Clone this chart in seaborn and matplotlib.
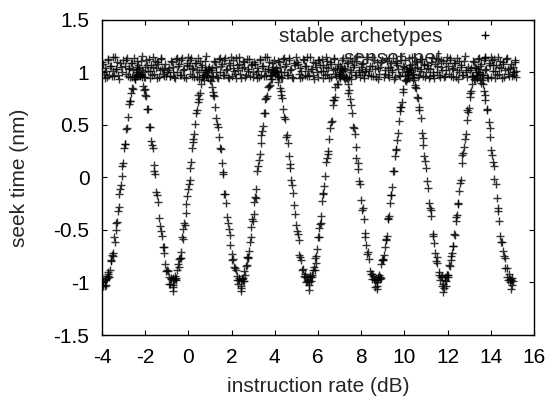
import matplotlib
matplotlib.use("Agg")
import matplotlib.pyplot as plt
import pandas as pd
import seaborn as sns
from matplotlib.lines import Line2D
from matplotlib.ticker import FormatStrFormatter

# stable archetypes (the oscillating series)
arch_x = [
    -4.00, -3.97, -3.93,
    -3.87, -3.83, -3.80, -3.74, -3.70, -3.67, -3.59, -3.56, -3.51, -3.44, -3.40, -3.34, -3.27, -3.23, -3.18, -3.09, -3.05,
    -2.98, -2.92, -2.87, -2.79, -2.75, -2.68, -2.62, -2.56, -2.51, -2.43, -2.36, -2.28, -2.23, -2.15, -2.10, -2.02, -1.96,
    -1.90, -1.81, -1.76, -1.69, -1.60, -1.54, -1.48, -1.39, -1.32, -1.26, -1.19, -1.11, -1.04, -0.98, -0.91, -0.84, -0.79,
    -0.72, -0.69, -0.65, -0.60, -0.55, -0.53, -0.44, -0.42, -0.36, -0.30, -0.25, -0.20, -0.12, -0.09, -0.03, 0.06, 0.09,
    0.17, 0.22, 0.28, 0.35, 0.40, 0.46, 0.53, 0.58, 0.64, 0.71, 0.79, 0.86, 0.92, 0.99, 1.05, 1.12, 1.19, 1.25, 1.33, 1.39,
    1.46, 1.54, 1.61, 1.66, 1.76, 1.82, 1.89, 1.95, 2.04, 2.10, 2.17, 2.23, 2.31, 2.35,
    2.42, 2.46, 2.49, 2.55, 2.59, 2.62, 2.70, 2.73, 2.78, 2.85, 2.89, 2.95, 3.02, 3.06, 3.11, 3.20, 3.24, 3.31, 3.37, 3.42,
    3.50, 3.54, 3.61, 3.67, 3.73, 3.78, 3.86, 3.93, 4.01, 4.06, 4.14, 4.19, 4.27, 4.33, 4.39, 4.48, 4.53, 4.60, 4.69, 4.75,
    4.81, 4.90, 4.97, 5.03, 5.10, 5.18, 5.25, 5.31, 5.38, 5.45, 5.50,
    5.56, 5.60, 5.63, 5.69, 5.73, 5.76, 5.84, 5.87, 5.92, 5.99, 6.03, 6.09, 6.16, 6.20, 6.25, 6.34, 6.38, 6.45, 6.51, 6.56,
    6.64, 6.68, 6.75, 6.81, 6.87, 6.92, 7.00, 7.07, 7.15, 7.20, 7.28, 7.33, 7.41, 7.47, 7.53, 7.62, 7.67, 7.74, 7.83, 7.89,
    7.95, 8.04, 8.11, 8.17, 8.24, 8.32, 8.39, 8.45, 8.52, 8.59, 8.64,
    8.70, 8.74, 8.77, 8.83, 8.87, 8.90, 8.98, 9.01, 9.06, 9.13, 9.17, 9.23, 9.30, 9.34, 9.39, 9.48, 9.52, 9.59, 9.65, 9.70,
    9.78, 9.82, 9.89, 9.95, 10.01, 10.06, 10.14, 10.21, 10.29, 10.34, 10.42, 10.47, 10.55, 10.61, 10.67, 10.76, 10.81,
    10.88, 10.97, 11.03, 11.09, 11.18, 11.25, 11.31, 11.38, 11.46, 11.53, 11.59, 11.66, 11.73, 11.78,
    11.84, 11.88, 11.91, 11.97, 12.01, 12.04, 12.12, 12.15, 12.20, 12.27, 12.31, 12.37, 12.44, 12.48, 12.53, 12.62, 12.66,
    12.73, 12.79, 12.84, 12.92, 12.96, 13.03, 13.09, 13.15, 13.20, 13.28, 13.35, 13.43, 13.48, 13.56, 13.61, 13.69, 13.75,
    13.81, 13.90, 13.95, 14.02, 14.11, 14.17, 14.23, 14.32, 14.39, 14.45, 14.52, 14.60, 14.67, 14.73, 14.80, 14.87, 14.92,
    14.97, 15.00, 15.03,
    -0.70, 2.44, 5.58, 8.72, 11.80, 14.95,
]
arch_y = [
    -0.94, -1.03, -0.99,
    -0.98, -1.02, -0.97, -0.92, -0.94, -0.95, -0.80, -0.79, -0.75, -0.57, -0.61, -0.43, -0.32, -0.28, -0.11, 0.01, 0.11,
    0.28, 0.32, 0.46, 0.58, 0.70, 0.73, 0.85, 0.84, 0.96, 0.98, 0.97, 1.04, 0.97, 0.96, 0.87, 0.84, 0.78,
    0.65, 0.48, 0.48, 0.31, 0.12, 0.03, -0.14, -0.23, -0.46, -0.51, -0.66, -0.72, -0.89, -0.88, -0.95, -1.01, -0.96,
    -0.96, -1.02, -0.98, -0.94, -0.98, -0.88, -0.85, -0.78, -0.77, -0.57, -0.59, -0.43, -0.34, -0.25, -0.11, -0.02, 0.09,
    0.28, 0.37, 0.41, 0.61, 0.64, 0.79, 0.80, 0.89, 0.96, 0.93, 1.02, 0.98, 1.03, 0.93, 0.92, 0.79, 0.78, 0.67, 0.51, 0.48,
    0.28, 0.14, 0.03, -0.16, -0.24, -0.43, -0.49, -0.64, -0.79, -0.85, -0.86, -0.94, -1.01, -0.98,
    -1.05, -0.97, -0.97, -0.99, -0.89, -0.93, -0.83, -0.76, -0.77, -0.61, -0.57, -0.40, -0.35, -0.23, -0.20, 0.06, 0.11,
    0.22, 0.40, 0.44, 0.61, 0.61, 0.76, 0.86, 0.87, 0.88, 1.02, 1.00, 0.99, 1.00, 0.91, 0.96, 0.79, 0.76, 0.65, 0.56, 0.39,
    0.33, 0.13, -0.02, -0.07, -0.26, -0.45, -0.51, -0.60, -0.76, -0.88, -0.87, -0.95, -1.00, -0.95,
    -0.98, -1.00, -0.94, -0.99, -0.93, -0.88, -0.88, -0.77, -0.75, -0.57, -0.57, -0.44, -0.37, -0.22, -0.15, 0.01, 0.15,
    0.22, 0.37, 0.47, 0.54, 0.69, 0.74, 0.86, 0.89, 0.89, 0.97, 1.04, 1.01, 0.95, 0.96, 0.95, 0.80, 0.75, 0.69, 0.48, 0.47,
    0.29, 0.14, -0.03, -0.06, -0.31, -0.40, -0.53, -0.64, -0.71, -0.89, -0.92, -0.92, -0.97, -1.04,
    -0.98, -1.03, -0.97, -0.93, -0.95, -0.96, -0.79, -0.79, -0.74, -0.60, -0.59, -0.40, -0.37, -0.24, -0.17, 0.06, 0.06,
    0.27, 0.36, 0.42, 0.63, 0.67, 0.72, 0.84, 0.93, 0.92, 0.94, 1.03, 1.00, 0.96, 0.99, 0.86, 0.85, 0.76, 0.64, 0.57,
    0.42, 0.31, 0.16, -0.03, -0.10, -0.29, -0.37, -0.54, -0.62, -0.80, -0.81, -0.90, -0.98, -0.94, -1.01,
    -1.05, -0.95, -0.99, -0.93, -0.93, -0.95, -0.84, -0.75, -0.72, -0.65, -0.54, -0.41, -0.36, -0.25, -0.13, -0.02, 0.14,
    0.23, 0.37, 0.41, 0.64, 0.62, 0.77, 0.82, 0.89, 0.97, 0.93, 0.98, 1.03, 0.99, 0.90, 0.93, 0.82, 0.79,
    0.64, 0.53, 0.47, 0.26, 0.15, -0.01, -0.06, -0.29, -0.41, -0.56, -0.61, -0.75, -0.86, -0.86, -0.98, -0.97, -0.98,
    -1.02, -0.96, -0.99,
    -1.08, -1.08, -1.07, -1.06, -1.09, -1.06,
]
# more points of the same series, lying between the ones above
arch_x_b = [
    -3.85, -3.78, -3.72, -3.63, -3.54, -3.48, -3.37, -3.31, -3.21, -3.14, -3.02, -2.95, -2.83, -2.72, -2.65, -2.47, -2.40,
    -2.32, -2.19, -2.06, -1.99, -1.87, -1.73, -1.65, -1.57, -1.44, -1.36, -1.23, -1.15, -1.07, -0.95, -0.88, -0.81,
    -0.71, -0.64, -0.58, -0.49, -0.40, -0.34, -0.23, -0.17, -0.07, 0.01, 0.13, 0.20, 0.32, 0.43, 0.50, 0.68, 0.75,
    0.83, 0.96, 1.09, 1.16, 1.28, 1.42, 1.50, 1.58, 1.71, 1.79, 1.92, 2.00, 2.08, 2.20, 2.27, 2.34,
    2.44, 2.51, 2.57, 2.66, 2.75, 2.81, 2.92, 2.98, 3.08, 3.15, 3.27, 3.34, 3.46, 3.57, 3.64, 3.82, 3.89,
    3.97, 4.10, 4.23, 4.30, 4.42, 4.56, 4.64, 4.72, 4.85, 4.93, 5.06, 5.14, 5.22, 5.34, 5.41, 5.48,
    5.58, 5.65, 5.71, 5.80, 5.89, 5.95, 6.06, 6.12, 6.22, 6.29, 6.41, 6.48, 6.60, 6.71, 6.78, 6.96, 7.03,
    7.11, 7.24, 7.37, 7.44, 7.56, 7.70, 7.78, 7.86, 7.99, 8.07, 8.20, 8.28, 8.36, 8.48, 8.55, 8.62,
    8.72, 8.79, 8.85, 8.94, 9.03, 9.09, 9.20, 9.26, 9.36, 9.43, 9.55, 9.62, 9.74, 9.85, 9.92, 10.10, 10.17,
    10.25, 10.38, 10.51, 10.58, 10.70, 10.84, 10.92, 11.00, 11.13, 11.21, 11.34, 11.42, 11.50, 11.62, 11.69, 11.76,
    11.86, 11.93, 11.99, 12.08, 12.17, 12.23, 12.34, 12.40, 12.50, 12.57, 12.69, 12.76, 12.88, 12.99, 13.06, 13.24, 13.31,
    13.39, 13.52, 13.65, 13.72, 13.84, 13.98, 14.06, 14.14, 14.27, 14.35, 14.48, 14.56, 14.64, 14.76, 14.83, 14.90,
]
arch_y_b = [
    -1.03, -0.96, -0.90, -0.88, -0.74, -0.72, -0.50, -0.42, -0.16, -0.07, 0.14, 0.32, 0.47, 0.73, 0.80, 0.94, 1.03,
    0.99, 0.99, 0.83, 0.79, 0.65, 0.35, 0.28, 0.06, -0.17, -0.39, -0.56, -0.66, -0.82, -0.89, -1.01, -0.97,
    -1.04, -0.97, -0.96, -0.82, -0.77, -0.71, -0.49, -0.45, -0.18, -0.06, 0.15, 0.34, 0.51, 0.72, 0.75, 0.96, 1.02,
    0.97, 1.02, 0.86, 0.81, 0.57, 0.39, 0.27, 0.05, -0.16, -0.38, -0.55, -0.73, -0.78, -0.88, -0.98, -0.96,
    -1.03, -0.96, -0.99, -0.84, -0.76, -0.70, -0.47, -0.41, -0.19, -0.11, 0.17, 0.33, 0.49, 0.75, 0.78, 0.98, 0.94,
    1.01, 1.01, 0.85, 0.82, 0.58, 0.40, 0.20, 0.09, -0.15, -0.35, -0.54, -0.74, -0.79, -0.94, -0.92, -0.99,
    -1.02, -0.94, -0.95, -0.85, -0.81, -0.68, -0.48, -0.43, -0.16, -0.08, 0.19, 0.25, 0.53, 0.74, 0.77, 0.99, 0.95,
    1.02, 0.94, 0.89, 0.83, 0.61, 0.41, 0.19, 0.08, -0.21, -0.29, -0.57, -0.73, -0.78, -0.97, -0.94, -0.98,
    -1.00, -0.95, -0.97, -0.82, -0.78, -0.66, -0.56, -0.39, -0.17, -0.09, 0.20, 0.26, 0.54, 0.67, 0.81, 1.00, 0.98,
    1.03, 0.93, 0.88, 0.77, 0.67, 0.38, 0.20, 0.09, -0.24, -0.31, -0.56, -0.72, -0.76, -0.93, -0.95, -1.03,
    -0.98, -1.03, -0.93, -0.83, -0.79, -0.65, -0.55, -0.38, -0.24, -0.05, 0.21, 0.29, 0.55, 0.66, 0.80, 0.94, 1.04,
    1.00, 0.94, 0.89, 0.74, 0.65, 0.39, 0.21, 0.11, -0.20, -0.32, -0.61, -0.70, -0.77, -0.95, -0.92, -1.00,
]

# sensor-net (the flat band just above 1)
band_x = [
    -3.98, -3.91, -3.85, -3.77, -3.71, -3.62, -3.55, -3.49, -3.40, -3.33, -3.24, -3.17, -3.08,
    -2.95, -2.89, -2.81, -2.74, -2.66, -2.59, -2.53, -2.44, -2.37, -2.29, -2.21, -2.14, -2.05,
    -1.99, -1.92, -1.83, -1.79, -1.69, -1.64, -1.56, -1.47, -1.42, -1.32, -1.26, -1.19, -1.11, -1.03,
    -0.96, -0.87, -0.82, -0.73, -0.67, -0.58, -0.51, -0.45, -0.36, -0.30, -0.22, -0.12, -0.07,
    0.02, 0.09, 0.15, 0.23, 0.29, 0.38, 0.45, 0.51, 0.60, 0.67, 0.76, 0.83, 0.92,
    1.05, 1.11, 1.19, 1.26, 1.34, 1.41, 1.47, 1.56, 1.63, 1.71, 1.79, 1.86, 1.95,
    2.01, 2.08, 2.17, 2.21, 2.31, 2.36, 2.44, 2.53, 2.58, 2.68, 2.74, 2.81, 2.89, 2.97,
    3.04, 3.13, 3.18, 3.27, 3.33, 3.42, 3.49, 3.55, 3.64, 3.70, 3.78, 3.88, 3.93,
    4.02, 4.09, 4.15, 4.23, 4.29, 4.38, 4.45, 4.51, 4.60, 4.67, 4.76, 4.83, 4.92,
    5.05, 5.11, 5.19, 5.26, 5.34, 5.41, 5.47, 5.56, 5.63, 5.71, 5.79, 5.86, 5.95,
    6.01, 6.08, 6.17, 6.21, 6.31, 6.36, 6.44, 6.53, 6.58, 6.68, 6.74, 6.81, 6.89, 6.97,
    7.04, 7.13, 7.18, 7.27, 7.33, 7.42, 7.49, 7.55, 7.64, 7.70, 7.78, 7.88, 7.93,
    8.02, 8.09, 8.15, 8.23, 8.29, 8.38, 8.45, 8.51, 8.60, 8.67, 8.76, 8.83, 8.92,
    9.05, 9.11, 9.19, 9.26, 9.34, 9.41, 9.47, 9.56, 9.63, 9.71, 9.79, 9.86, 9.95,
    10.01, 10.08, 10.17, 10.21, 10.31, 10.36, 10.44, 10.53, 10.58, 10.68, 10.74, 10.81, 10.89, 10.97,
    11.04, 11.13, 11.18, 11.27, 11.33, 11.42, 11.49, 11.55, 11.64, 11.70, 11.78, 11.88, 11.93,
    12.02, 12.09, 12.15, 12.23, 12.29, 12.38, 12.45, 12.51, 12.60, 12.67, 12.76, 12.83, 12.92,
    13.05, 13.11, 13.19, 13.26, 13.34, 13.41, 13.47, 13.56, 13.63, 13.71, 13.79, 13.86, 13.95,
    14.01, 14.08, 14.17, 14.21, 14.31, 14.36, 14.44, 14.53, 14.58, 14.68, 14.74, 14.81, 14.89, 14.97,
    15.03, 15.08, 15.14, 15.19,
]
band_y = [
    1.10, 0.99, 1.04, 0.96, 1.12, 1.06, 0.97, 1.01, 1.15, 1.03, 0.98, 1.09, 1.00,
    1.06, 1.12, 0.97, 1.03, 1.09, 0.96, 1.14, 1.00, 1.05, 0.98, 1.11, 1.02, 0.96,
    0.96, 1.07, 1.13, 1.01, 0.98, 1.05, 1.11, 0.95, 1.08, 1.02, 1.14, 0.99, 1.04, 0.97,
    1.02, 0.97, 1.11, 1.05, 0.96, 1.13, 1.00, 1.08, 0.98, 1.14, 1.03, 0.95, 1.07,
    1.06, 1.12, 0.97, 1.03, 1.09, 0.96, 1.14, 1.00, 1.05, 0.98, 1.11, 1.02, 0.96,
    1.02, 0.97, 1.11, 1.05, 0.96, 1.13, 1.00, 1.08, 0.98, 1.14, 1.03, 0.95, 1.07,
    0.97, 1.04, 0.99, 1.14, 1.02, 1.08, 0.95, 1.11, 1.05, 0.98, 1.01, 1.13, 1.07, 0.96,
    1.10, 0.99, 1.04, 0.96, 1.12, 1.06, 0.97, 1.01, 1.15, 1.03, 0.98, 1.09, 1.00,
    1.02, 0.97, 1.11, 1.05, 0.96, 1.13, 1.00, 1.08, 0.98, 1.14, 1.03, 0.95, 1.07,
    1.10, 0.99, 1.04, 0.96, 1.12, 1.06, 0.97, 1.01, 1.15, 1.03, 0.98, 1.09, 1.00,
    0.96, 1.07, 1.13, 1.01, 0.98, 1.05, 1.11, 0.95, 1.08, 1.02, 1.14, 0.99, 1.04, 0.97,
    1.06, 1.12, 0.97, 1.03, 1.09, 0.96, 1.14, 1.00, 1.05, 0.98, 1.11, 1.02, 0.96,
    1.00, 1.09, 0.98, 1.03, 1.15, 1.01, 0.97, 1.06, 1.12, 0.96, 1.04, 0.99, 1.10,
    0.96, 1.02, 1.11, 0.98, 1.05, 1.00, 1.14, 0.96, 1.09, 1.03, 0.97, 1.12, 1.06,
    0.97, 1.04, 0.99, 1.14, 1.02, 1.08, 0.95, 1.11, 1.05, 0.98, 1.01, 1.13, 1.07, 0.96,
    1.07, 0.95, 1.03, 1.14, 0.98, 1.08, 1.00, 1.13, 0.96, 1.05, 1.11, 0.97, 1.02,
    1.06, 1.12, 0.97, 1.03, 1.09, 0.96, 1.14, 1.00, 1.05, 0.98, 1.11, 1.02, 0.96,
    1.02, 0.97, 1.11, 1.05, 0.96, 1.13, 1.00, 1.08, 0.98, 1.14, 1.03, 0.95, 1.07,
    0.96, 1.07, 1.13, 1.01, 0.98, 1.05, 1.11, 0.95, 1.08, 1.02, 1.14, 0.99, 1.04, 0.97,
    1.05, 0.98, 1.10, 1.01,
]
band_x_b = [
    -3.94, -3.87, -3.81, -3.73, -3.67, -3.58, -3.51, -3.45, -3.36, -3.29, -3.20, -3.13, -3.04,
    -2.91, -2.85, -2.77, -2.70, -2.62, -2.55, -2.49, -2.40, -2.33, -2.25, -2.17, -2.10, -2.01,
    -1.95, -1.88, -1.79, -1.75, -1.65, -1.60, -1.52, -1.43, -1.38, -1.28, -1.22, -1.15, -1.07, -0.99,
    -0.92, -0.83, -0.78, -0.69, -0.63, -0.54, -0.47, -0.41, -0.32, -0.26, -0.18, -0.08, -0.03,
    0.06, 0.13, 0.19, 0.27, 0.33, 0.42, 0.49, 0.55, 0.64, 0.71, 0.80, 0.87, 0.96,
    1.09, 1.15, 1.23, 1.30, 1.38, 1.45, 1.51, 1.60, 1.67, 1.75, 1.83, 1.90, 1.99,
    2.05, 2.12, 2.21, 2.25, 2.35, 2.40, 2.48, 2.57, 2.62, 2.72, 2.78, 2.85, 2.93, 3.01,
    3.08, 3.17, 3.22, 3.31, 3.37, 3.46, 3.53, 3.59, 3.68, 3.74, 3.82, 3.92, 3.97,
    4.06, 4.13, 4.19, 4.27, 4.33, 4.42, 4.49, 4.55, 4.64, 4.71, 4.80, 4.87, 4.96,
    5.09, 5.15, 5.23, 5.30, 5.38, 5.45, 5.51, 5.60, 5.67, 5.75, 5.83, 5.90, 5.99,
    6.05, 6.12, 6.21, 6.25, 6.35, 6.40, 6.48, 6.57, 6.62, 6.72, 6.78, 6.85, 6.93, 7.01,
    7.08, 7.17, 7.22, 7.31, 7.37, 7.46, 7.53, 7.59, 7.68, 7.74, 7.82, 7.92, 7.97,
    8.06, 8.13, 8.19, 8.27, 8.33, 8.42, 8.49, 8.55, 8.64, 8.71, 8.80, 8.87, 8.96,
    9.09, 9.15, 9.23, 9.30, 9.38, 9.45, 9.51, 9.60, 9.67, 9.75, 9.83, 9.90, 9.99,
    10.05, 10.12, 10.21, 10.25, 10.35, 10.40, 10.48, 10.57, 10.62, 10.72, 10.78, 10.85, 10.93, 11.01,
    11.08, 11.17, 11.22, 11.31, 11.37, 11.46, 11.53, 11.59, 11.68, 11.74, 11.82, 11.92, 11.97,
    12.06, 12.13, 12.19, 12.27, 12.33, 12.42, 12.49, 12.55, 12.64, 12.71, 12.80, 12.87, 12.96,
    13.09, 13.15, 13.23, 13.30, 13.38, 13.45, 13.51, 13.60, 13.67, 13.75, 13.83, 13.90, 13.99,
    14.05, 14.12, 14.21, 14.25, 14.35, 14.40, 14.48, 14.57, 14.62, 14.72, 14.78, 14.85, 14.93, 15.01,
    15.07, 15.12, 15.17,
]
band_y_b = [
    1.08, 0.95, 1.01, 1.13, 0.98, 1.06, 1.15, 0.97, 1.03, 1.10, 0.94, 1.05, 1.12,
    0.99, 1.14, 1.04, 0.96, 1.09, 1.02, 0.94, 1.11, 1.07, 0.98, 1.16, 1.00, 1.05,
    1.12, 1.01, 0.95, 1.07, 1.15, 0.99, 1.04, 1.10, 0.96, 1.13, 1.03, 0.97, 1.08, 1.00,
    1.04, 0.97, 1.10, 1.00, 0.95, 1.14, 1.06, 0.98, 1.12, 1.02, 0.96, 1.09, 1.15,
    0.99, 1.14, 1.04, 0.96, 1.09, 1.02, 0.94, 1.11, 1.07, 0.98, 1.16, 1.00, 1.05,
    1.04, 0.97, 1.10, 1.00, 0.95, 1.14, 1.06, 0.98, 1.12, 1.02, 0.96, 1.09, 1.15,
    1.12, 1.01, 0.95, 1.07, 1.15, 0.99, 1.04, 1.10, 0.96, 1.13, 1.03, 0.97, 1.08, 1.00,
    1.08, 0.95, 1.01, 1.13, 0.98, 1.06, 1.15, 0.97, 1.03, 1.10, 0.94, 1.05, 1.12,
    1.04, 0.97, 1.10, 1.00, 0.95, 1.14, 1.06, 0.98, 1.12, 1.02, 0.96, 1.09, 1.15,
    1.08, 0.95, 1.01, 1.13, 0.98, 1.06, 1.15, 0.97, 1.03, 1.10, 0.94, 1.05, 1.12,
    1.12, 1.01, 0.95, 1.07, 1.15, 0.99, 1.04, 1.10, 0.96, 1.13, 1.03, 0.97, 1.08, 1.00,
    0.99, 1.14, 1.04, 0.96, 1.09, 1.02, 0.94, 1.11, 1.07, 0.98, 1.16, 1.00, 1.05,
    1.08, 0.95, 1.01, 1.13, 0.98, 1.06, 1.15, 0.97, 1.03, 1.10, 0.94, 1.05, 1.12,
    0.99, 1.14, 1.04, 0.96, 1.09, 1.02, 0.94, 1.11, 1.07, 0.98, 1.16, 1.00, 1.05,
    1.12, 1.01, 0.95, 1.07, 1.15, 0.99, 1.04, 1.10, 0.96, 1.13, 1.03, 0.97, 1.08, 1.00,
    1.04, 0.97, 1.10, 1.00, 0.95, 1.14, 1.06, 0.98, 1.12, 1.02, 0.96, 1.09, 1.15,
    0.99, 1.14, 1.04, 0.96, 1.09, 1.02, 0.94, 1.11, 1.07, 0.98, 1.16, 1.00, 1.05,
    1.04, 0.97, 1.10, 1.00, 0.95, 1.14, 1.06, 0.98, 1.12, 1.02, 0.96, 1.09, 1.15,
    1.12, 1.01, 0.95, 1.07, 1.15, 0.99, 1.04, 1.10, 0.96, 1.13, 1.03, 0.97, 1.08, 1.00,
    1.00, 1.12, 0.96,
]

x_ticks = [-4, -2, 0, 2, 4, 6, 8, 10, 12, 14, 16]
y_ticks = [-1.5, -1, -0.5, 0, 0.5, 1, 1.5]
series_names = ["stable archetypes", "sensor-net"]

sns.set_style("ticks")
plt.rcParams["font.family"] = ["Liberation Sans", "DejaVu Sans"]
plt.rcParams["axes.unicode_minus"] = False

df_arch = pd.DataFrame({"x": arch_x + arch_x_b, "y": arch_y + arch_y_b})
df_band = pd.DataFrame({"x": band_x + band_x_b, "y": band_y + band_y_b})

fig = plt.figure(figsize=(5.53, 3.99), dpi=100)
ax = fig.add_axes([0.1844, 0.1604, 0.7812, 0.7895])

sns.scatterplot(data=df_arch, x="x", y="y", marker="+", color="black", s=30,
                linewidth=1.0, alpha=0.8, ax=ax, legend=False)
sns.scatterplot(data=df_band, x="x", y="y", marker="+", color="black", s=30,
                linewidth=1.0, alpha=0.8, ax=ax, legend=False)

ax.set_xlim(-4, 16)
ax.set_ylim(-1.5, 1.5)
ax.set_xticks(x_ticks)
ax.set_yticks(y_ticks)
ax.yaxis.set_major_formatter(FormatStrFormatter("%g"))
ax.tick_params(direction="in", top=True, right=True, length=3.5, width=0.8,
               labelsize=15, pad=9, colors="black")
for sp in ax.spines.values():
    sp.set_visible(True)
    sp.set_linewidth(1.0)
    sp.set_color("black")

ax.set_xlabel("instruction rate (dB)", fontsize=15)
ax.set_ylabel("seek time (nm)", fontsize=15)
ax.xaxis.label.set_va("center")
ax.yaxis.label.set_va("center")
ax.xaxis.set_label_coords(0.5, -0.165)
ax.yaxis.set_label_coords(-0.19, 0.5)

handles = [Line2D([], [], marker="+", linestyle="none", color="black",
                  markersize=5.5, markeredgewidth=1.0) for _ in series_names]
ax.legend(handles, series_names, loc="upper right", bbox_to_anchor=(0.947, 0.978),
          frameon=False, markerfirst=False, fontsize=15, handlelength=2.5,
          handletextpad=0.8, borderpad=0, borderaxespad=0, labelspacing=0.15)

fig.savefig("out.png", dpi=100)
